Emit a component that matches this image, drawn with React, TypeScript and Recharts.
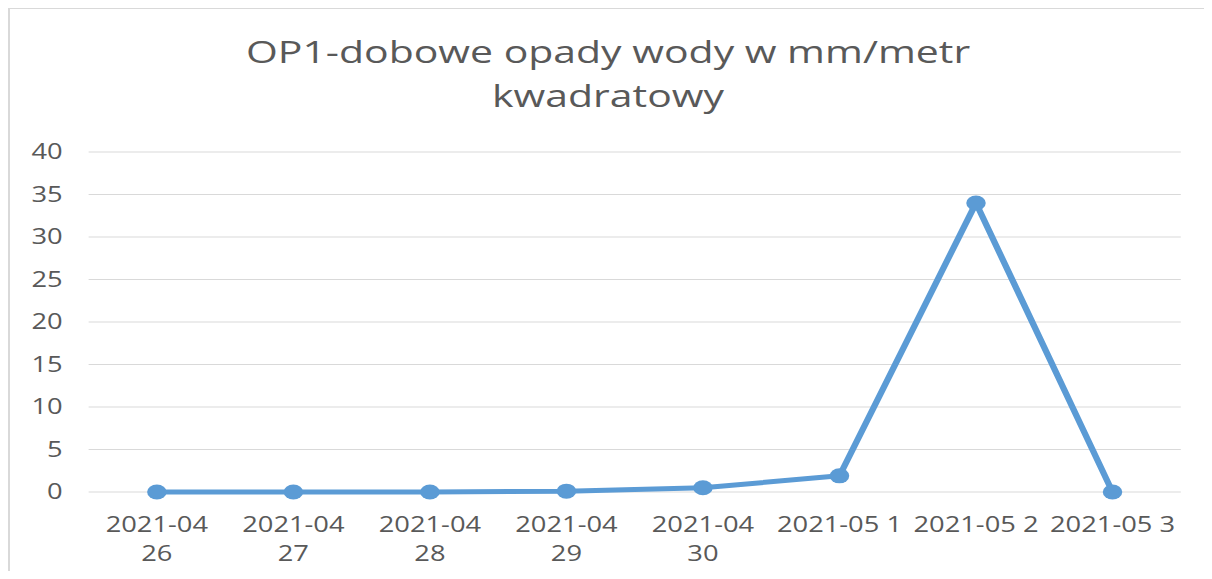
import React from "react";
import { LineChart, Line, XAxis, YAxis, CartesianGrid } from "recharts";

const titleLines = ["OP1-dobowe opady wody w mm/metr", "kwadratowy"];
const categories = [
  "2021-04 26",
  "2021-04 27",
  "2021-04 28",
  "2021-04 29",
  "2021-04 30",
  "2021-05 1",
  "2021-05 2",
  "2021-05 3",
];
const rainfall = [0, 0, 0, 0.1, 0.5, 1.9, 34, 0];
const yTicks = [0, 5, 10, 15, 20, 25, 30, 35, 40];

const data = categories.map((c, i) => ({ day: c, value: rainfall[i] }));

const STRETCH = 1.3;
const OUTER_W = 1204;
const OUTER_H = 571;
const W = OUTER_W / STRETCH;
const H = OUTER_H;
const M_LEFT = 0;
const Y_W = 62;
const M_RIGHT = 24;
const M_BOTTOM = 27;
const HALF_BAND = (W - M_LEFT - Y_W - M_RIGHT) / categories.length / 2;
const FONT = "'Open Sans', 'Liberation Sans', sans-serif";
const TEXT_COLOR = "#595959";
const BLUE = "#5b9bd5";

const XTick = (props: any) => {
  const { x, y, payload } = props;
  const label: string = String(payload.value);
  const sp = label.lastIndexOf(" ");
  const lines = label.length > 9 ? [label.slice(0, sp), label.slice(sp + 1)] : [label];
  return (
    <g>
      {lines.map((ln, i) => (
        <text
          key={i}
          x={x}
          y={y + 40 + i * 29}
          textAnchor="middle"
          fill={TEXT_COLOR}
          fontSize={21}
          fontFamily={FONT}
        >
          {ln}
        </text>
      ))}
    </g>
  );
};

const Dot = (props: any) => {
  const { cx, cy } = props;
  if (cx == null || cy == null) return null;
  return <circle cx={cx} cy={cy} r={7.5} fill={BLUE} stroke={BLUE} strokeWidth={0} />;
};

export default function App() {
  return (
    <div
      style={{
        position: "relative",
        width: OUTER_W,
        height: OUTER_H,
        overflow: "hidden",
        background: "#fff",
        marginBottom: -8,
      }}
    >
      <div
        style={{
          position: "absolute",
          left: 0,
          top: -1,
          width: OUTER_W + 20,
          height: OUTER_H + 20,
          borderLeft: "2px solid #d9d9d9",
          borderTop: "2px solid #d9d9d9",
          boxSizing: "border-box",
        }}
      />
      <div
        style={{
          position: "absolute",
          left: 0,
          top: 0,
          width: W,
          height: H,
          transform: `scaleX(${STRETCH})`,
          transformOrigin: "0 0",
        }}
      >
        <LineChart
          width={W}
          height={H}
          data={data}
          margin={{ top: 144, right: M_RIGHT, bottom: M_BOTTOM, left: M_LEFT }}
        >
          <CartesianGrid vertical={false} stroke="#d9d9d9" strokeWidth={1} />
          <XAxis
            dataKey="day"
            axisLine={false}
            tickLine={false}
            tickSize={0}
            tickMargin={0}
            height={60}
            interval={0}
            padding={{ left: HALF_BAND, right: HALF_BAND }}
            tick={<XTick />}
          />
          <YAxis
            domain={[0, 40]}
            ticks={yTicks}
            axisLine={false}
            tickLine={false}
            tickSize={0}
            tickMargin={20}
            width={Y_W}
            interval={0}
            tick={{ fill: TEXT_COLOR, fontSize: 21, fontFamily: FONT }}
          />
          <Line
            type="linear"
            dataKey="value"
            stroke={BLUE}
            strokeWidth={5}
            strokeLinejoin="round"
            dot={<Dot />}
            activeDot={false}
            isAnimationActive={false}
          />
        </LineChart>
        <svg
          width={W}
          height={130}
          style={{ position: "absolute", left: 0, top: 0, pointerEvents: "none" }}
        >
          {titleLines.map((t, i) => (
            <text
              key={i}
              x={W / 2 - 1.5}
              y={55 + i * 44}
              textAnchor="middle"
              fill={TEXT_COLOR}
              fontSize={31.5}
              fontFamily={FONT}
            >
              {t}
            </text>
          ))}
        </svg>
      </div>
    </div>
  );
}
